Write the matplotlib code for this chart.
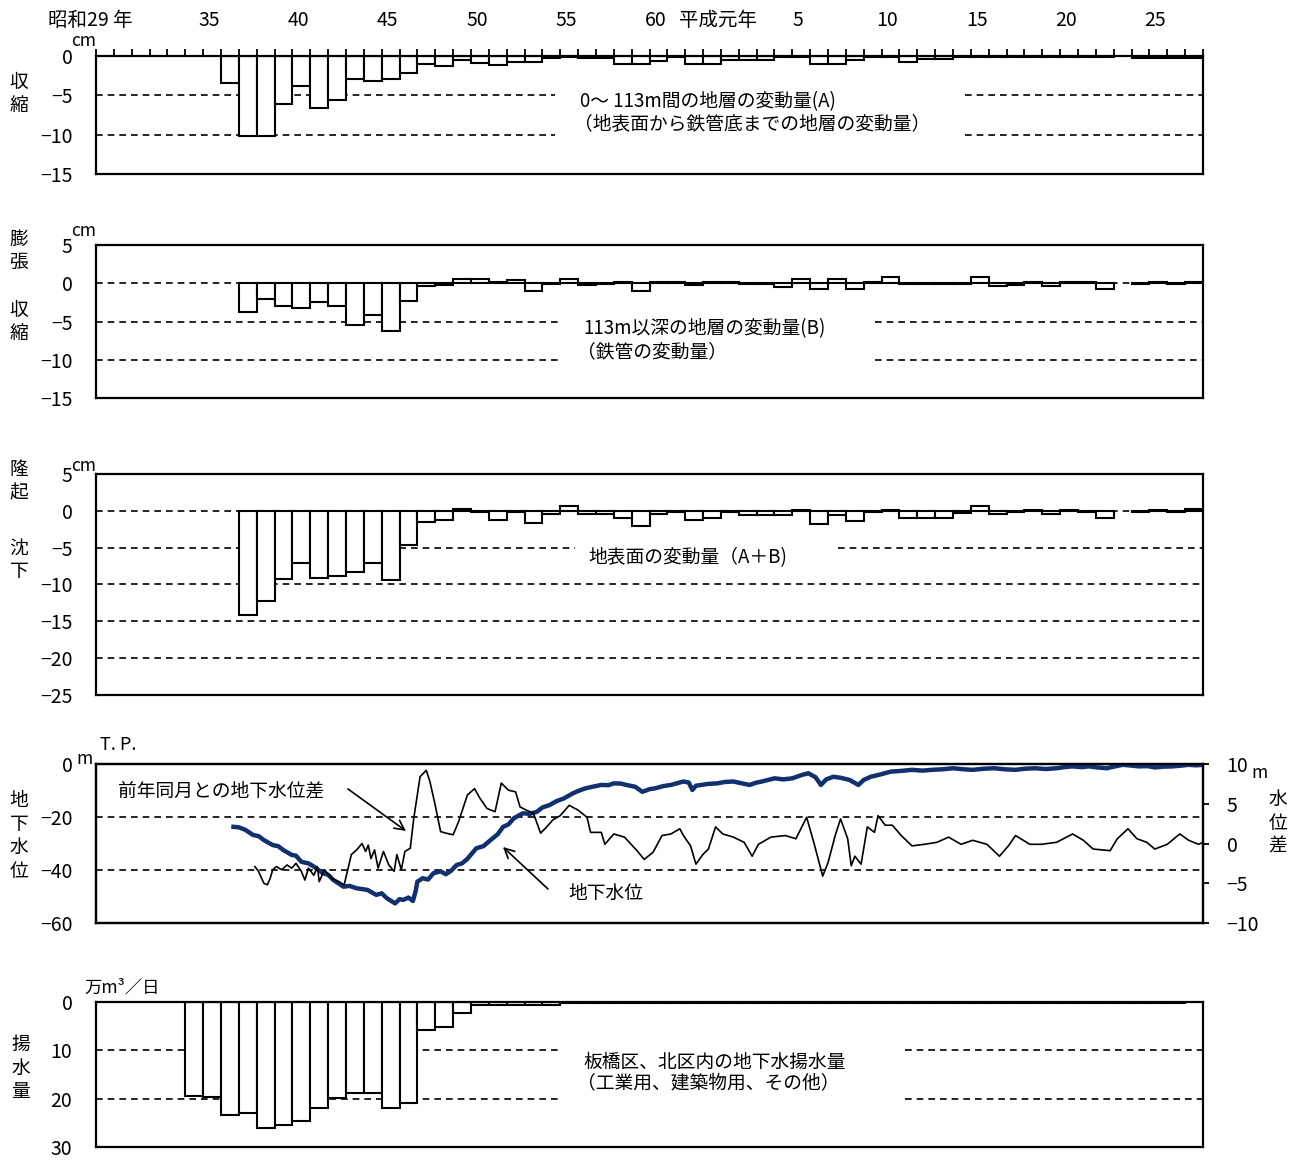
import matplotlib
matplotlib.use('Agg')
import matplotlib.pyplot as plt
import matplotlib.transforms as mtransforms
import numpy as np

plt.rcParams['font.family'] = ['Noto Sans CJK JP', 'DejaVu Sans']

# ---------------- data ----------------
# (A) 0-113m layer change, cm (1961-2015, 2011 missing)
a_years = list(range(1961, 2016))
a_vals = [-3.4, -10.2, -10.2, -6.1, -3.8, -6.6, -5.6, -2.9, -3.2, -2.9,
          -2.2, -1.0, -1.3, -0.5, -0.9, -1.2, -0.7, -0.7, -0.3, -0.1,
          -0.2, -0.2, -1.0, -1.0, -0.6, -0.1, -1.0, -1.0, -0.5, -0.5,
          -0.5, -0.1, -0.1, -1.0, -1.0, -0.5, -0.1, -0.1, -0.8, -0.4,
          -0.4, -0.1, -0.1, -0.1, -0.1, -0.1, -0.1, -0.1, -0.1, -0.1,
          np.nan, -0.2, -0.2, -0.2, -0.2]

# (B) below 113m layer change, cm (1962-2015)
b_years = list(range(1962, 2016))
b_vals = [-3.8, -2.1, -3.0, -3.3, -2.5, -3.0, -5.4, -4.1, -6.2, -2.3,
          -0.4, -0.2, 0.6, 0.6, 0.2, 0.4, -1.0, -0.1, 0.6, -0.2,
          -0.1, 0.2, -1.0, 0.1, 0.1, -0.2, 0.1, 0.1, -0.1, -0.1,
          -0.5, 0.5, -0.7, 0.5, -0.7, 0.1, 0.8, -0.1, -0.1, -0.1,
          -0.1, 0.8, -0.4, -0.2, 0.2, -0.4, 0.2, 0.1, -0.7, np.nan,
          -0.1, 0.2, -0.1, 0.2]

# (A+B) surface change, cm (1962-2015)
c_years = list(range(1962, 2016))
c_vals = [-14.1, -12.3, -9.3, -7.1, -9.1, -8.8, -8.3, -7.1, -9.4, -4.6,
          -1.5, -1.3, 0.2, -0.2, -1.3, -0.2, -1.7, -0.4, 0.7, -0.4,
          -0.4, -1.0, -2.0, -0.4, -0.2, -1.3, -1.0, -0.1, -0.6, -0.6,
          -0.6, 0.1, -1.8, -0.5, -1.4, -0.1, 0.1, -1.0, -1.0, -1.0,
          -0.3, 0.7, -0.4, -0.1, 0.1, -0.4, 0.1, -0.1, -1.0, np.nan,
          -0.1, 0.1, -0.2, 0.2]

# groundwater level (T.P. m)
lvl_t = [1961.7, 1962.0, 1962.35, 1962.8, 1963.1, 1963.4, 1963.9, 1964.2, 1964.5, 1964.96,
         1965.2, 1965.5, 1965.9, 1966.2, 1966.7, 1967.0, 1967.3, 1967.86, 1968.2, 1968.6,
         1969.2, 1969.7, 1970.0, 1970.3, 1970.75, 1971.0, 1971.2, 1971.5, 1971.75, 1971.9,
         1972.0, 1972.3, 1972.6, 1972.9, 1973.3, 1973.6, 1973.9, 1974.2, 1974.5, 1974.8,
         1975.3, 1975.7, 1976.1, 1976.5, 1976.8, 1977.1, 1977.4, 1977.9, 1978.3, 1978.7,
         1979.0, 1979.4, 1979.8, 1980.2, 1980.7, 1981.0, 1981.4, 1981.8, 1982.3, 1982.7,
         1983.0, 1983.4, 1983.7, 1984.2, 1984.6, 1985.0, 1985.3, 1985.8, 1986.2, 1986.9,
         1987.2, 1987.4, 1987.6, 1987.9, 1988.3, 1988.8, 1989.2, 1989.7, 1990.1, 1990.6,
         1991.0, 1991.3, 1992.0, 1992.5, 1993.0, 1993.5, 1993.9, 1994.3, 1994.6, 1994.9,
         1995.3, 1995.7, 1996.2, 1996.7, 1997.0, 1997.4, 1997.9, 1998.5, 1999.1, 1999.7,
         2000.3, 2000.8, 2001.4, 2002.0, 2002.6, 2003.1, 2003.7, 2004.3, 2004.9, 2005.5,
         2006.0, 2006.6, 2007.2, 2007.8, 2008.2, 2008.7, 2009.2, 2009.6, 2010.1, 2010.6,
         2011.0, 2011.5, 2012.0, 2012.4, 2012.9, 2013.3, 2013.8, 2014.3, 2014.8, 2015.2,
         2015.6, 2016.0]
lvl_v = [-23.7, -23.9, -24.8, -26.8, -27.2, -28.7, -30.6, -31.0, -32.5, -34.3,
         -34.6, -36.9, -37.5, -38.7, -41.2, -41.8, -43.8, -46.3, -46.0, -46.9,
         -47.5, -49.4, -48.8, -50.7, -52.6, -51.0, -51.3, -50.4, -51.7, -48.0,
         -44.4, -43.1, -43.6, -41.2, -40.5, -41.6, -40.2, -38.1, -37.5, -35.8,
         -31.8, -31.0, -28.7, -26.5, -23.7, -22.8, -20.5, -18.6, -18.8, -18.0,
         -16.4, -15.5, -14.0, -13.0, -11.1, -10.2, -9.2, -8.6, -7.9, -8.0,
         -7.3, -7.4, -7.9, -8.6, -10.5, -9.5, -9.2, -8.3, -7.9, -6.6,
         -7.0, -9.8, -8.2, -7.9, -7.5, -7.3, -6.8, -6.6, -7.2, -7.9,
         -7.0, -6.6, -5.4, -5.8, -5.4, -4.2, -3.5, -5.0, -7.9, -5.8,
         -4.8, -5.2, -6.0, -7.9, -6.0, -4.8, -4.0, -2.9, -2.6, -2.2,
         -2.5, -2.2, -2.0, -1.6, -2.0, -2.2, -1.8, -1.6, -2.0, -2.2,
         -1.8, -1.6, -1.9, -1.6, -1.2, -0.9, -1.2, -0.9, -1.3, -1.6,
         -1.0, -0.3, -0.6, -0.9, -0.8, -1.3, -1.0, -0.9, -0.6, -0.3,
         -0.5, -0.3]

# difference from same month of previous year (m)
dif_t = [1962.9, 1963.1, 1963.4, 1963.6, 1963.75, 1963.9, 1964.1, 1964.4, 1964.7, 1964.96,
         1965.2, 1965.5, 1965.7, 1965.9, 1966.2, 1966.4, 1966.5, 1966.8, 1967.2, 1967.6,
         1967.9, 1968.1, 1968.3, 1968.6, 1968.9, 1969.1, 1969.25, 1969.4, 1969.6, 1969.8,
         1970.1, 1970.4, 1970.7, 1970.85, 1971.1, 1971.3, 1971.6, 1971.8, 1972.15, 1972.5,
         1972.7, 1973.0, 1973.3, 1973.6, 1974.0, 1974.3, 1974.8, 1975.2, 1975.5, 1975.9,
         1976.35, 1976.7, 1977.1, 1977.5, 1977.75, 1978.1, 1978.5, 1978.9, 1979.25, 1979.6,
         1980.0, 1980.5, 1981.0, 1981.5, 1981.7, 1982.3, 1982.5, 1983.0, 1983.6, 1984.3,
         1984.7, 1985.2, 1985.7, 1986.2, 1986.7, 1986.9, 1987.3, 1987.6, 1988.0, 1988.3,
         1988.7, 1989.1, 1989.7, 1990.3, 1990.75, 1991.1, 1991.8, 1992.6, 1993.2, 1993.8,
         1994.2, 1994.7, 1995.0, 1995.4, 1995.7, 1996.1, 1996.3, 1996.5, 1996.85, 1997.2,
         1997.6, 1997.8, 1998.2, 1998.6, 1999.1, 1999.7, 2000.4, 2001.1, 2001.75, 2002.45,
         2003.1, 2003.9, 2004.6, 2005.1, 2005.5, 2006.3, 2006.95, 2007.8, 2008.7, 2009.3,
         2009.85, 2010.8, 2011.2, 2011.8, 2012.3, 2012.85, 2013.3, 2014.0, 2014.7, 2015.2,
         2015.75, 2016.0]
dif_v = [-2.9, -3.5, -5.0, -5.2, -4.4, -3.3, -2.9, -3.3, -2.7, -3.1,
         -2.5, -3.5, -4.6, -3.1, -4.0, -2.9, -4.8, -3.3, -4.4, -4.8,
         -5.2, -3.3, -1.4, -0.8, 0.0, -1.0, -0.2, -1.9, -0.8, -3.1,
         -1.0, -2.7, -3.5, -1.4, -3.3, -1.0, -0.6, 3.2, 8.4, 9.2,
         7.8, 4.8, 1.5, 1.3, 1.1, 2.7, 6.1, 6.9, 5.7, 4.4,
         4.0, 7.6, 6.7, 6.5, 4.6, 4.2, 3.8, 1.3, 2.1, 3.0,
         3.5, 4.8, 4.2, 3.3, 1.4, 1.4, -0.1, 1.2, 0.8, -0.9,
         -2.0, -1.1, 1.0, 1.2, 1.85, 1.0, -0.3, -2.6, -1.35, -0.7,
         2.1, 1.2, 0.8, 0.15, -1.6, -0.1, 0.8, 1.0, 0.6, 3.3,
         0.15, -4.1, -2.4, 1.0, 3.1, 0.6, -2.8, -1.6, -2.6, 2.1,
         1.4, 3.5, 2.3, 2.3, 1.0, -0.3, -0.1, 0.15, 0.8, -0.1,
         0.4, -0.1, -1.6, -0.3, 1.0, -0.1, -0.1, 0.15, 1.2, 0.4,
         -0.7, -0.9, 0.6, 1.85, 0.6, 0.15, -0.7, -0.1, 1.2, 0.4,
         -0.1, 0.15]

# pumping volume (10^4 m3/day), 1959-2014
p_years = list(range(1959, 2015))
p_vals = [19.5, 19.6, 23.4, 23.0, 26.1, 25.5, 24.7, 22.0, 19.9, 18.8,
          18.8, 22.0, 20.8, 5.8, 5.1, 2.3, 0.7, 0.7, 0.7, 0.7,
          0.7, 0.3, 0.3, 0.3, 0.3, 0.3, 0.3, 0.3, 0.3, 0.3,
          0.3, 0.3, 0.3, 0.3, 0.3, 0.3, 0.3, 0.3, 0.3, 0.3,
          0.3, 0.3, 0.3, 0.3, 0.3, 0.3, 0.3, 0.3, 0.3, 0.3,
          0.3, 0.3, 0.3, 0.3, 0.3, 0.3]

year_label_years = [1954, 1960, 1965, 1970, 1975, 1980, 1985, 1989, 1993, 1998, 2003, 2008, 2013]
year_labels = ['昭和29 年', '35', '40', '45', '50', '55', '60', '平成元年', '5', '10', '15', '20', '25']

# ---------------- figure ----------------
W, H = 1301, 1160
fig = plt.figure(figsize=(W / 100, H / 100), dpi=100)
fig.patch.set_facecolor('white')

X0, X1 = 1954, 2016
L, R = 96, 1203


def add_ax(top, bottom):
    return fig.add_axes([L / W, 1 - bottom / H, (R - L) / W, (bottom - top) / H])


def fx(px):
    return px / W


def fy(py):
    return 1 - py / H


TICK_FS = 14
TXT_FS = 13.5
DASH = (0, (4, 3))


def style(ax, ylim, yticks):
    ax.set_xlim(X0, X1)
    ax.set_ylim(*ylim)
    ax.set_yticks(yticks)
    ax.tick_params(axis='y', length=0, pad=17, labelsize=TICK_FS)
    ax.tick_params(axis='x', length=0, labelbottom=False, labeltop=False)
    for s in ax.spines.values():
        s.set_linewidth(1.6)
        s.set_zorder(5)


def dashed(ax, y, segs=((0, 1),)):
    for a, b in segs:
        ax.plot([a, b], [y, y], transform=ax.get_yaxis_transform(), color='black',
                lw=1.2, ls=DASH, zorder=1, clip_on=False)


def bars(ax, years, vals, bottom=0):
    yy = [y for y, v in zip(years, vals) if not np.isnan(v)]
    vv = [v for v in vals if not np.isnan(v)]
    ax.bar(yy, vv, width=1.0, align='edge', bottom=bottom, facecolor='white',
           edgecolor='black', linewidth=1.5, zorder=3)


# Panel 1
ax1 = add_ax(56, 174)
style(ax1, (-15, 0), [0, -5, -10, -15])
g1 = ((0, (555 - L) / (R - L)), ((965 - L) / (R - L), 1))
dashed(ax1, -5, g1)
dashed(ax1, -10, g1)
bars(ax1, a_years, a_vals)
ax1.set_xticks(range(1954, 2017))
ax1.tick_params(axis='x', which='both', top=True, bottom=False, direction='out',
                length=5, width=1.3, labeltop=False, labelbottom=False)

# Panel 2
ax2 = add_ax(245, 398)
style(ax2, (-15, 5), [5, 0, -5, -10, -15])
g2 = ((0, (560 - L) / (R - L)), ((875 - L) / (R - L), 1))
dashed(ax2, 0)
dashed(ax2, -5, g2)
dashed(ax2, -10, g2)
bars(ax2, b_years, b_vals)

# Panel 3
ax3 = add_ax(474, 695)
style(ax3, (-25, 5), [5, 0, -5, -10, -15, -20, -25])
g3 = ((0, (575 - L) / (R - L)), ((838 - L) / (R - L), 1))
dashed(ax3, 0)
dashed(ax3, -5, g3)
for yv in (-10, -15, -20):
    dashed(ax3, yv)
bars(ax3, c_years, c_vals)

# Panel 4
ax4 = add_ax(764, 923)
style(ax4, (-60, 0), [0, -20, -40, -60])
dashed(ax4, -20)
dashed(ax4, -40)
ax4.plot(lvl_t, lvl_v, color='#12306e', lw=3.2, zorder=3, solid_joinstyle='round')
ax4b = ax4.twinx()
ax4b.set_xlim(X0, X1)
ax4b.set_ylim(-10, 10)
ax4b.set_yticks([10, 5, 0, -5, -10])
ax4b.tick_params(axis='y', direction='out', length=4, width=1.3, pad=13, labelsize=TICK_FS)
for s in ax4b.spines.values():
    s.set_linewidth(1.6)
ax4b.plot(dif_t, dif_v, color='black', lw=1.2, zorder=4)

# Panel 5
ax5 = add_ax(1002, 1147)
style(ax5, (30, 0), [0, 10, 20, 30])
g5 = ((0, (560 - L) / (R - L)), ((905 - L) / (R - L), 1))
dashed(ax5, 10, g5)
dashed(ax5, 20, g5)
bars(ax5, p_years, p_vals)

# ---------------- year labels ----------------
trans = mtransforms.blended_transform_factory(ax1.transData, fig.transFigure)
px_per_year = (R - L) / (X1 - X0)
label_shift = {'昭和29 年': -15, '平成元年': -12}
for yr, lab in zip(year_label_years, year_labels):
    xx = yr + 0.5 + label_shift.get(lab, -3) / px_per_year
    fig.text(xx, fy(20), lab, transform=trans, ha='center', va='center', fontsize=TICK_FS)

# ---------------- unit labels ----------------
fig.text(fx(71), fy(41), 'cm', ha='left', va='center', fontsize=12.5)
fig.text(fx(71), fy(231), 'cm', ha='left', va='center', fontsize=12.5)
fig.text(fx(71), fy(466), 'cm', ha='left', va='center', fontsize=12.5)
fig.text(fx(76), fy(759), 'm', ha='left', va='center', fontsize=12.5)
fig.text(fx(100), fy(745), 'T. P.', ha='left', va='center', fontsize=13)
fig.text(fx(1251), fy(773), 'm', ha='left', va='center', fontsize=12.5)
fig.text(fx(84), fy(988), '万m³／日', ha='left', va='center', fontsize=12.5)

# vertical side labels
VL = dict(ha='center', va='center', fontsize=TXT_FS, linespacing=1.15)
fig.text(fx(19), fy(94), '収\n縮', **VL)
fig.text(fx(19), fy(251), '膨\n張', **VL)
fig.text(fx(19), fy(322), '収\n縮', **VL)
fig.text(fx(19), fy(481), '隆\n起', **VL)
fig.text(fx(19), fy(560), '沈\n下', **VL)
fig.text(fx(19), fy(836), '地\n下\n水\n位', **VL)
fig.text(fx(1278), fy(823), '水\n位\n差', **VL)
fig.text(fx(21), fy(1068), '揚\n水\n量', **VL)

# ---------------- annotations ----------------
TX = dict(ha='left', va='center', fontsize=TXT_FS)
fig.text(fx(580), fy(102), '0～ 113m間の地層の変動量(A)', **TX)
fig.text(fx(574), fy(124), '（地表面から鉄管底までの地層の変動量）', **TX)
fig.text(fx(583), fy(329), '113m以深の地層の変動量(B)', **TX)
fig.text(fx(577), fy(352), '（鉄管の変動量）', **TX)
fig.text(fx(588), fy(558), '地表面の変動量（A＋B)', **TX)
fig.text(fx(583), fy(1062), '板橋区、北区内の地下水揚水量', **TX)
fig.text(fx(577), fy(1084), '（工業用、建築物用、その他）', **TX)
fig.text(fx(118), fy(791), '前年同月との地下水位差', **TX)
fig.text(fx(568), fy(893), '地下水位', **TX)

AP = dict(arrowstyle='->,head_length=0.7,head_width=0.35', lw=1.2, color='black',
          shrinkA=0, shrinkB=0)
ax4.annotate('', xy=(406, H - 831), xytext=(348, H - 789), xycoords='figure pixels',
             textcoords='figure pixels', arrowprops=AP, annotation_clip=False)
ax4.annotate('', xy=(503, H - 847), xytext=(548, H - 889), xycoords='figure pixels',
             textcoords='figure pixels', arrowprops=AP, annotation_clip=False)

fig.savefig('out.png', dpi=100, facecolor='white')
